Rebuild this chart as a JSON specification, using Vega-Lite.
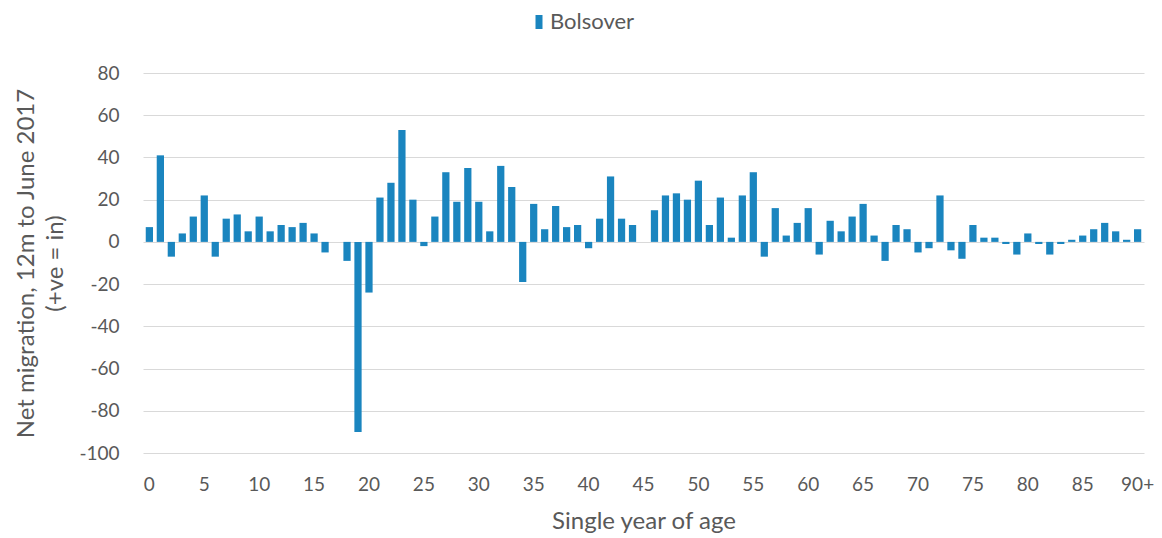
{
  "$schema": "https://vega.github.io/schema/vega-lite/v6.json",
  "width": 1001,
  "height": 380,
  "autosize": {"type": "none"},
  "padding": {"left": 143, "top": 73, "right": 18, "bottom": 85},
  "background": "white",
  "config": {
    "view": {"stroke": null},
    "font": "Lato",
    "axis": {"labelColor": "#595959", "titleColor": "#595959", "labelFont": "Lato", "titleFont": "Lato", "titleFontWeight": "normal"}
  },
  "data": {
    "values": [
      {"age": "0", "value": 7, "series": "Bolsover"},
      {"age": "1", "value": 41, "series": "Bolsover"},
      {"age": "2", "value": -7, "series": "Bolsover"},
      {"age": "3", "value": 4, "series": "Bolsover"},
      {"age": "4", "value": 12, "series": "Bolsover"},
      {"age": "5", "value": 22, "series": "Bolsover"},
      {"age": "6", "value": -7, "series": "Bolsover"},
      {"age": "7", "value": 11, "series": "Bolsover"},
      {"age": "8", "value": 13, "series": "Bolsover"},
      {"age": "9", "value": 5, "series": "Bolsover"},
      {"age": "10", "value": 12, "series": "Bolsover"},
      {"age": "11", "value": 5, "series": "Bolsover"},
      {"age": "12", "value": 8, "series": "Bolsover"},
      {"age": "13", "value": 7, "series": "Bolsover"},
      {"age": "14", "value": 9, "series": "Bolsover"},
      {"age": "15", "value": 4, "series": "Bolsover"},
      {"age": "16", "value": -5, "series": "Bolsover"},
      {"age": "17", "value": 0, "series": "Bolsover"},
      {"age": "18", "value": -9, "series": "Bolsover"},
      {"age": "19", "value": -90, "series": "Bolsover"},
      {"age": "20", "value": -24, "series": "Bolsover"},
      {"age": "21", "value": 21, "series": "Bolsover"},
      {"age": "22", "value": 28, "series": "Bolsover"},
      {"age": "23", "value": 53, "series": "Bolsover"},
      {"age": "24", "value": 20, "series": "Bolsover"},
      {"age": "25", "value": -2, "series": "Bolsover"},
      {"age": "26", "value": 12, "series": "Bolsover"},
      {"age": "27", "value": 33, "series": "Bolsover"},
      {"age": "28", "value": 19, "series": "Bolsover"},
      {"age": "29", "value": 35, "series": "Bolsover"},
      {"age": "30", "value": 19, "series": "Bolsover"},
      {"age": "31", "value": 5, "series": "Bolsover"},
      {"age": "32", "value": 36, "series": "Bolsover"},
      {"age": "33", "value": 26, "series": "Bolsover"},
      {"age": "34", "value": -19, "series": "Bolsover"},
      {"age": "35", "value": 18, "series": "Bolsover"},
      {"age": "36", "value": 6, "series": "Bolsover"},
      {"age": "37", "value": 17, "series": "Bolsover"},
      {"age": "38", "value": 7, "series": "Bolsover"},
      {"age": "39", "value": 8, "series": "Bolsover"},
      {"age": "40", "value": -3, "series": "Bolsover"},
      {"age": "41", "value": 11, "series": "Bolsover"},
      {"age": "42", "value": 31, "series": "Bolsover"},
      {"age": "43", "value": 11, "series": "Bolsover"},
      {"age": "44", "value": 8, "series": "Bolsover"},
      {"age": "45", "value": 0, "series": "Bolsover"},
      {"age": "46", "value": 15, "series": "Bolsover"},
      {"age": "47", "value": 22, "series": "Bolsover"},
      {"age": "48", "value": 23, "series": "Bolsover"},
      {"age": "49", "value": 20, "series": "Bolsover"},
      {"age": "50", "value": 29, "series": "Bolsover"},
      {"age": "51", "value": 8, "series": "Bolsover"},
      {"age": "52", "value": 21, "series": "Bolsover"},
      {"age": "53", "value": 2, "series": "Bolsover"},
      {"age": "54", "value": 22, "series": "Bolsover"},
      {"age": "55", "value": 33, "series": "Bolsover"},
      {"age": "56", "value": -7, "series": "Bolsover"},
      {"age": "57", "value": 16, "series": "Bolsover"},
      {"age": "58", "value": 3, "series": "Bolsover"},
      {"age": "59", "value": 9, "series": "Bolsover"},
      {"age": "60", "value": 16, "series": "Bolsover"},
      {"age": "61", "value": -6, "series": "Bolsover"},
      {"age": "62", "value": 10, "series": "Bolsover"},
      {"age": "63", "value": 5, "series": "Bolsover"},
      {"age": "64", "value": 12, "series": "Bolsover"},
      {"age": "65", "value": 18, "series": "Bolsover"},
      {"age": "66", "value": 3, "series": "Bolsover"},
      {"age": "67", "value": -9, "series": "Bolsover"},
      {"age": "68", "value": 8, "series": "Bolsover"},
      {"age": "69", "value": 6, "series": "Bolsover"},
      {"age": "70", "value": -5, "series": "Bolsover"},
      {"age": "71", "value": -3, "series": "Bolsover"},
      {"age": "72", "value": 22, "series": "Bolsover"},
      {"age": "73", "value": -4, "series": "Bolsover"},
      {"age": "74", "value": -8, "series": "Bolsover"},
      {"age": "75", "value": 8, "series": "Bolsover"},
      {"age": "76", "value": 2, "series": "Bolsover"},
      {"age": "77", "value": 2, "series": "Bolsover"},
      {"age": "78", "value": -1, "series": "Bolsover"},
      {"age": "79", "value": -6, "series": "Bolsover"},
      {"age": "80", "value": 4, "series": "Bolsover"},
      {"age": "81", "value": -1, "series": "Bolsover"},
      {"age": "82", "value": -6, "series": "Bolsover"},
      {"age": "83", "value": -1, "series": "Bolsover"},
      {"age": "84", "value": 1, "series": "Bolsover"},
      {"age": "85", "value": 3, "series": "Bolsover"},
      {"age": "86", "value": 6, "series": "Bolsover"},
      {"age": "87", "value": 9, "series": "Bolsover"},
      {"age": "88", "value": 5, "series": "Bolsover"},
      {"age": "89", "value": 1, "series": "Bolsover"},
      {"age": "90+", "value": 6, "series": "Bolsover"}
    ]
  },
  "mark": {"type": "bar"},
  "encoding": {
    "x": {
      "field": "age",
      "type": "ordinal",
      "sort": null,
      "scale": {"paddingInner": 0.34, "paddingOuter": 0.25},
      "axis": {
        "title": "Single year of age",
        "titleFontSize": 24,
        "titlePadding": 15,
        "labelFontSize": 19,
        "labelAngle": 0,
        "labelPadding": 22,
        "ticks": false,
        "domain": false,
        "grid": false,
        "values": ["0","5","10","15","20","25","30","35","40","45","50","55","60","65","70","75","80","85","90+"]
      }
    },
    "y": {
      "field": "value",
      "type": "quantitative",
      "scale": {"domain": [-100, 80], "nice": false, "zero": false},
      "axis": {
        "title": ["Net migration, 12m to June 2017", "(+ve = in)"],
        "titleFontSize": 24,
        "titleLineHeight": 29,
        "titlePadding": 11,
        "labelFontSize": 19,
        "labelPadding": 24,
        "labelExpr": "replace(datum.label, '\u2212', '-')",
        "ticks": false,
        "domain": false,
        "grid": true,
        "gridColor": "#d9d9d9",
        "gridWidth": 1.2,
        "values": [-100, -80, -60, -40, -20, 0, 20, 40, 60, 80]
      }
    },
    "color": {
      "field": "series",
      "type": "nominal",
      "scale": {"range": ["#1a85bf"]},
      "legend": {
        "title": null,
        "orient": "none",
        "legendX": 385,
        "legendY": -62,
        "padding": 0,
        "labelFontSize": 22,
        "labelColor": "#595959",
        "labelFont": "Lato",
        "labelOffset": 0,
        "symbolType": "M-0.5,-1H0.5V1H-0.5Z",
        "symbolSize": 196,
        "symbolStrokeWidth": 0
      }
    }
  }
}
